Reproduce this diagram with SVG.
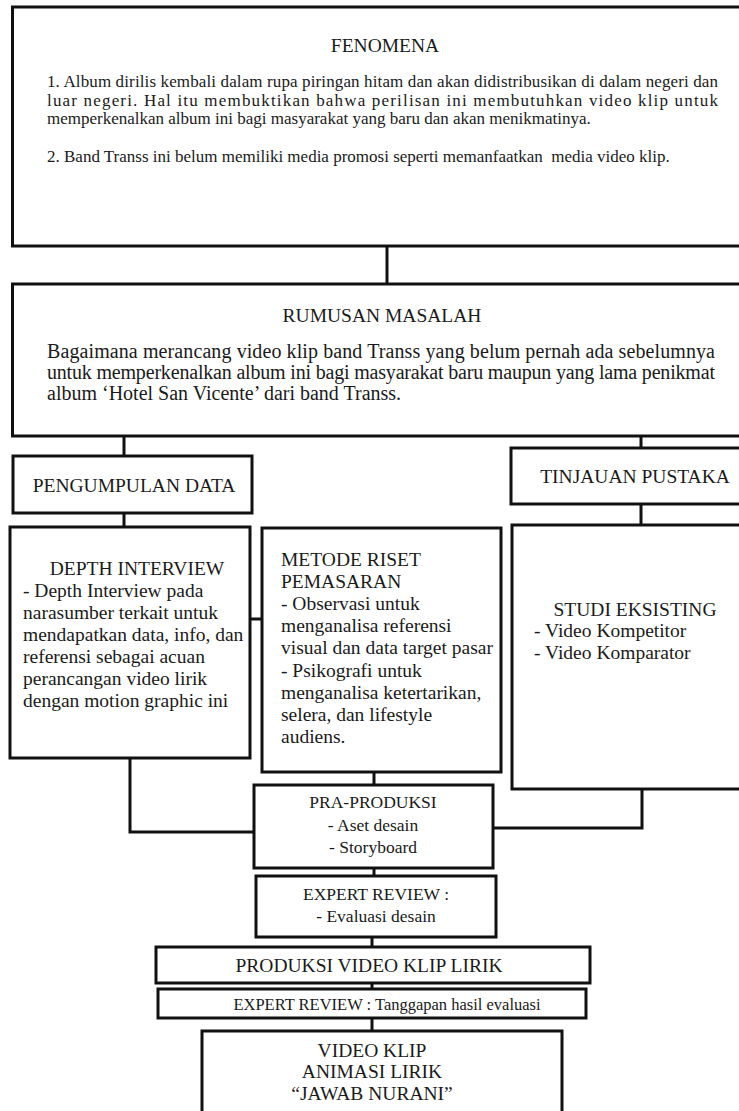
<svg xmlns="http://www.w3.org/2000/svg" width="739" height="1111" viewBox="0 0 739 1111">
<style>
rect.box{fill:#fff;stroke:#111;stroke-width:3}
.conn{fill:none;stroke:#111;stroke-width:3}
text{font-family:"Liberation Serif","Times New Roman",serif;fill:#1a1a1a}
.t{font-size:19.5px}
.c{text-anchor:middle}
.s{font-size:17px}
.b{font-size:19.5px}
.r{font-size:20px}
.m{font-size:17.5px}
</style>
<rect width="739" height="1111" fill="#fff"/>
<g id="connectors">
<path class="conn" d="M387,246V284"/>
<path class="conn" d="M124,436V456"/>
<path class="conn" d="M641,436V448"/>
<path class="conn" d="M124,513V527"/>
<path class="conn" d="M641,504V525"/>
<path class="conn" d="M250,619H262"/>
<path class="conn" d="M130,758V832H254"/>
<path class="conn" d="M374,772V785"/>
<path class="conn" d="M642,789V828H493"/>
<path class="conn" d="M374,868V876"/>
<path class="conn" d="M372,937V947"/>
<path class="conn" d="M372,983V989"/>
<path class="conn" d="M372,1018V1031"/>
</g>
<g id="fenomena">
<rect class="box" x="12.5" y="7" width="760" height="239"/>
<text class="t c" x="385" y="52">FENOMENA</text>
<text class="s" x="47" y="87" textLength="671" lengthAdjust="spacing">1. Album dirilis kembali dalam rupa piringan hitam dan akan didistribusikan di dalam negeri dan</text>
<text class="s" x="47" y="105.5" textLength="671" lengthAdjust="spacing">luar negeri. Hal itu membuktikan bahwa perilisan ini membutuhkan video klip untuk</text>
<text class="s" x="47" y="124">memperkenalkan album ini bagi masyarakat yang baru dan akan menikmatinya.</text>
<text class="s" x="47" y="162" xml:space="preserve">2. Band Transs ini belum memiliki media promosi seperti memanfaatkan  media video klip.</text>
</g>
<g id="rumusan">
<rect class="box" x="12.5" y="284" width="760" height="152"/>
<text class="t c" x="382" y="322">RUMUSAN MASALAH</text>
<text class="r" x="47" y="358" textLength="668" lengthAdjust="spacing">Bagaimana merancang video klip band Transs yang belum pernah ada sebelumnya</text>
<text class="r" x="47" y="379" textLength="668" lengthAdjust="spacing">untuk memperkenalkan album ini bagi masyarakat baru maupun yang lama penikmat</text>
<text class="r" x="47" y="400">album ‘Hotel San Vicente’ dari band Transs.</text>
</g>
<g id="pengumpulan">
<rect class="box" x="13" y="456" width="239" height="57"/>
<text class="t c" x="134" y="492">PENGUMPULAN DATA</text>
</g>
<g id="tinjauan">
<rect class="box" x="511" y="448" width="260" height="56"/>
<text class="t c" x="635" y="483">TINJAUAN PUSTAKA</text>
</g>
<g id="depth">
<rect class="box" x="10" y="527" width="240" height="231"/>
<text class="t c" x="137" y="575">DEPTH INTERVIEW</text>
<text class="b" x="23" y="597">- Depth Interview pada</text>
<text class="b" x="23" y="619">narasumber terkait untuk</text>
<text class="b" x="23" y="641">mendapatkan data, info, dan</text>
<text class="b" x="23" y="663">referensi sebagai acuan</text>
<text class="b" x="23" y="685">perancangan video lirik</text>
<text class="b" x="23" y="707">dengan motion graphic ini</text>
</g>
<g id="metode">
<rect class="box" x="262" y="528" width="239" height="244"/>
<text class="t" x="281" y="566">METODE RISET</text>
<text class="t" x="281" y="588">PEMASARAN</text>
<text class="b" x="281" y="610">- Observasi untuk</text>
<text class="b" x="281" y="632">menganalisa referensi</text>
<text class="b" x="281" y="654">visual dan data target pasar</text>
<text class="b" x="281" y="677">- Psikografi untuk</text>
<text class="b" x="281" y="699">menganalisa ketertarikan,</text>
<text class="b" x="281" y="721">selera, dan lifestyle</text>
<text class="b" x="281" y="743">audiens.</text>
</g>
<g id="studi">
<rect class="box" x="512" y="525" width="260" height="264"/>
<text class="t c" x="635" y="616">STUDI EKSISTING</text>
<text class="b" x="534" y="637">- Video Kompetitor</text>
<text class="b" x="534" y="659">- Video Komparator</text>
</g>
<g id="praproduksi">
<rect class="box" x="254" y="785" width="239" height="83"/>
<text class="m c" x="373" y="808">PRA-PRODUKSI</text>
<text class="m c" x="373" y="831">- Aset desain</text>
<text class="m c" x="373" y="853">- Storyboard</text>
</g>
<g id="expert1">
<rect class="box" x="256" y="876" width="240" height="61"/>
<text class="m c" x="376" y="900">EXPERT REVIEW :</text>
<text class="m c" x="376" y="922">- Evaluasi desain</text>
</g>
<g id="produksi">
<rect class="box" x="156" y="947" width="434" height="36"/>
<text class="t c" x="369" y="972">PRODUKSI VIDEO KLIP LIRIK</text>
</g>
<g id="expert2">
<rect class="box" x="158" y="989" width="428" height="29"/>
<text x="387" y="1010" class="c" style="font-size:16.5px" xml:space="preserve">EXPERT REVIEW : Tanggapan hasil evaluasi</text>
</g>
<g id="final">
<rect class="box" x="202" y="1031" width="360" height="100"/>
<text class="t c" x="372" y="1057">VIDEO KLIP</text>
<text class="t c" x="372" y="1078">ANIMASI LIRIK</text>
<text class="t c" x="372" y="1100">“JAWAB NURANI”</text>
</g>
</svg>
